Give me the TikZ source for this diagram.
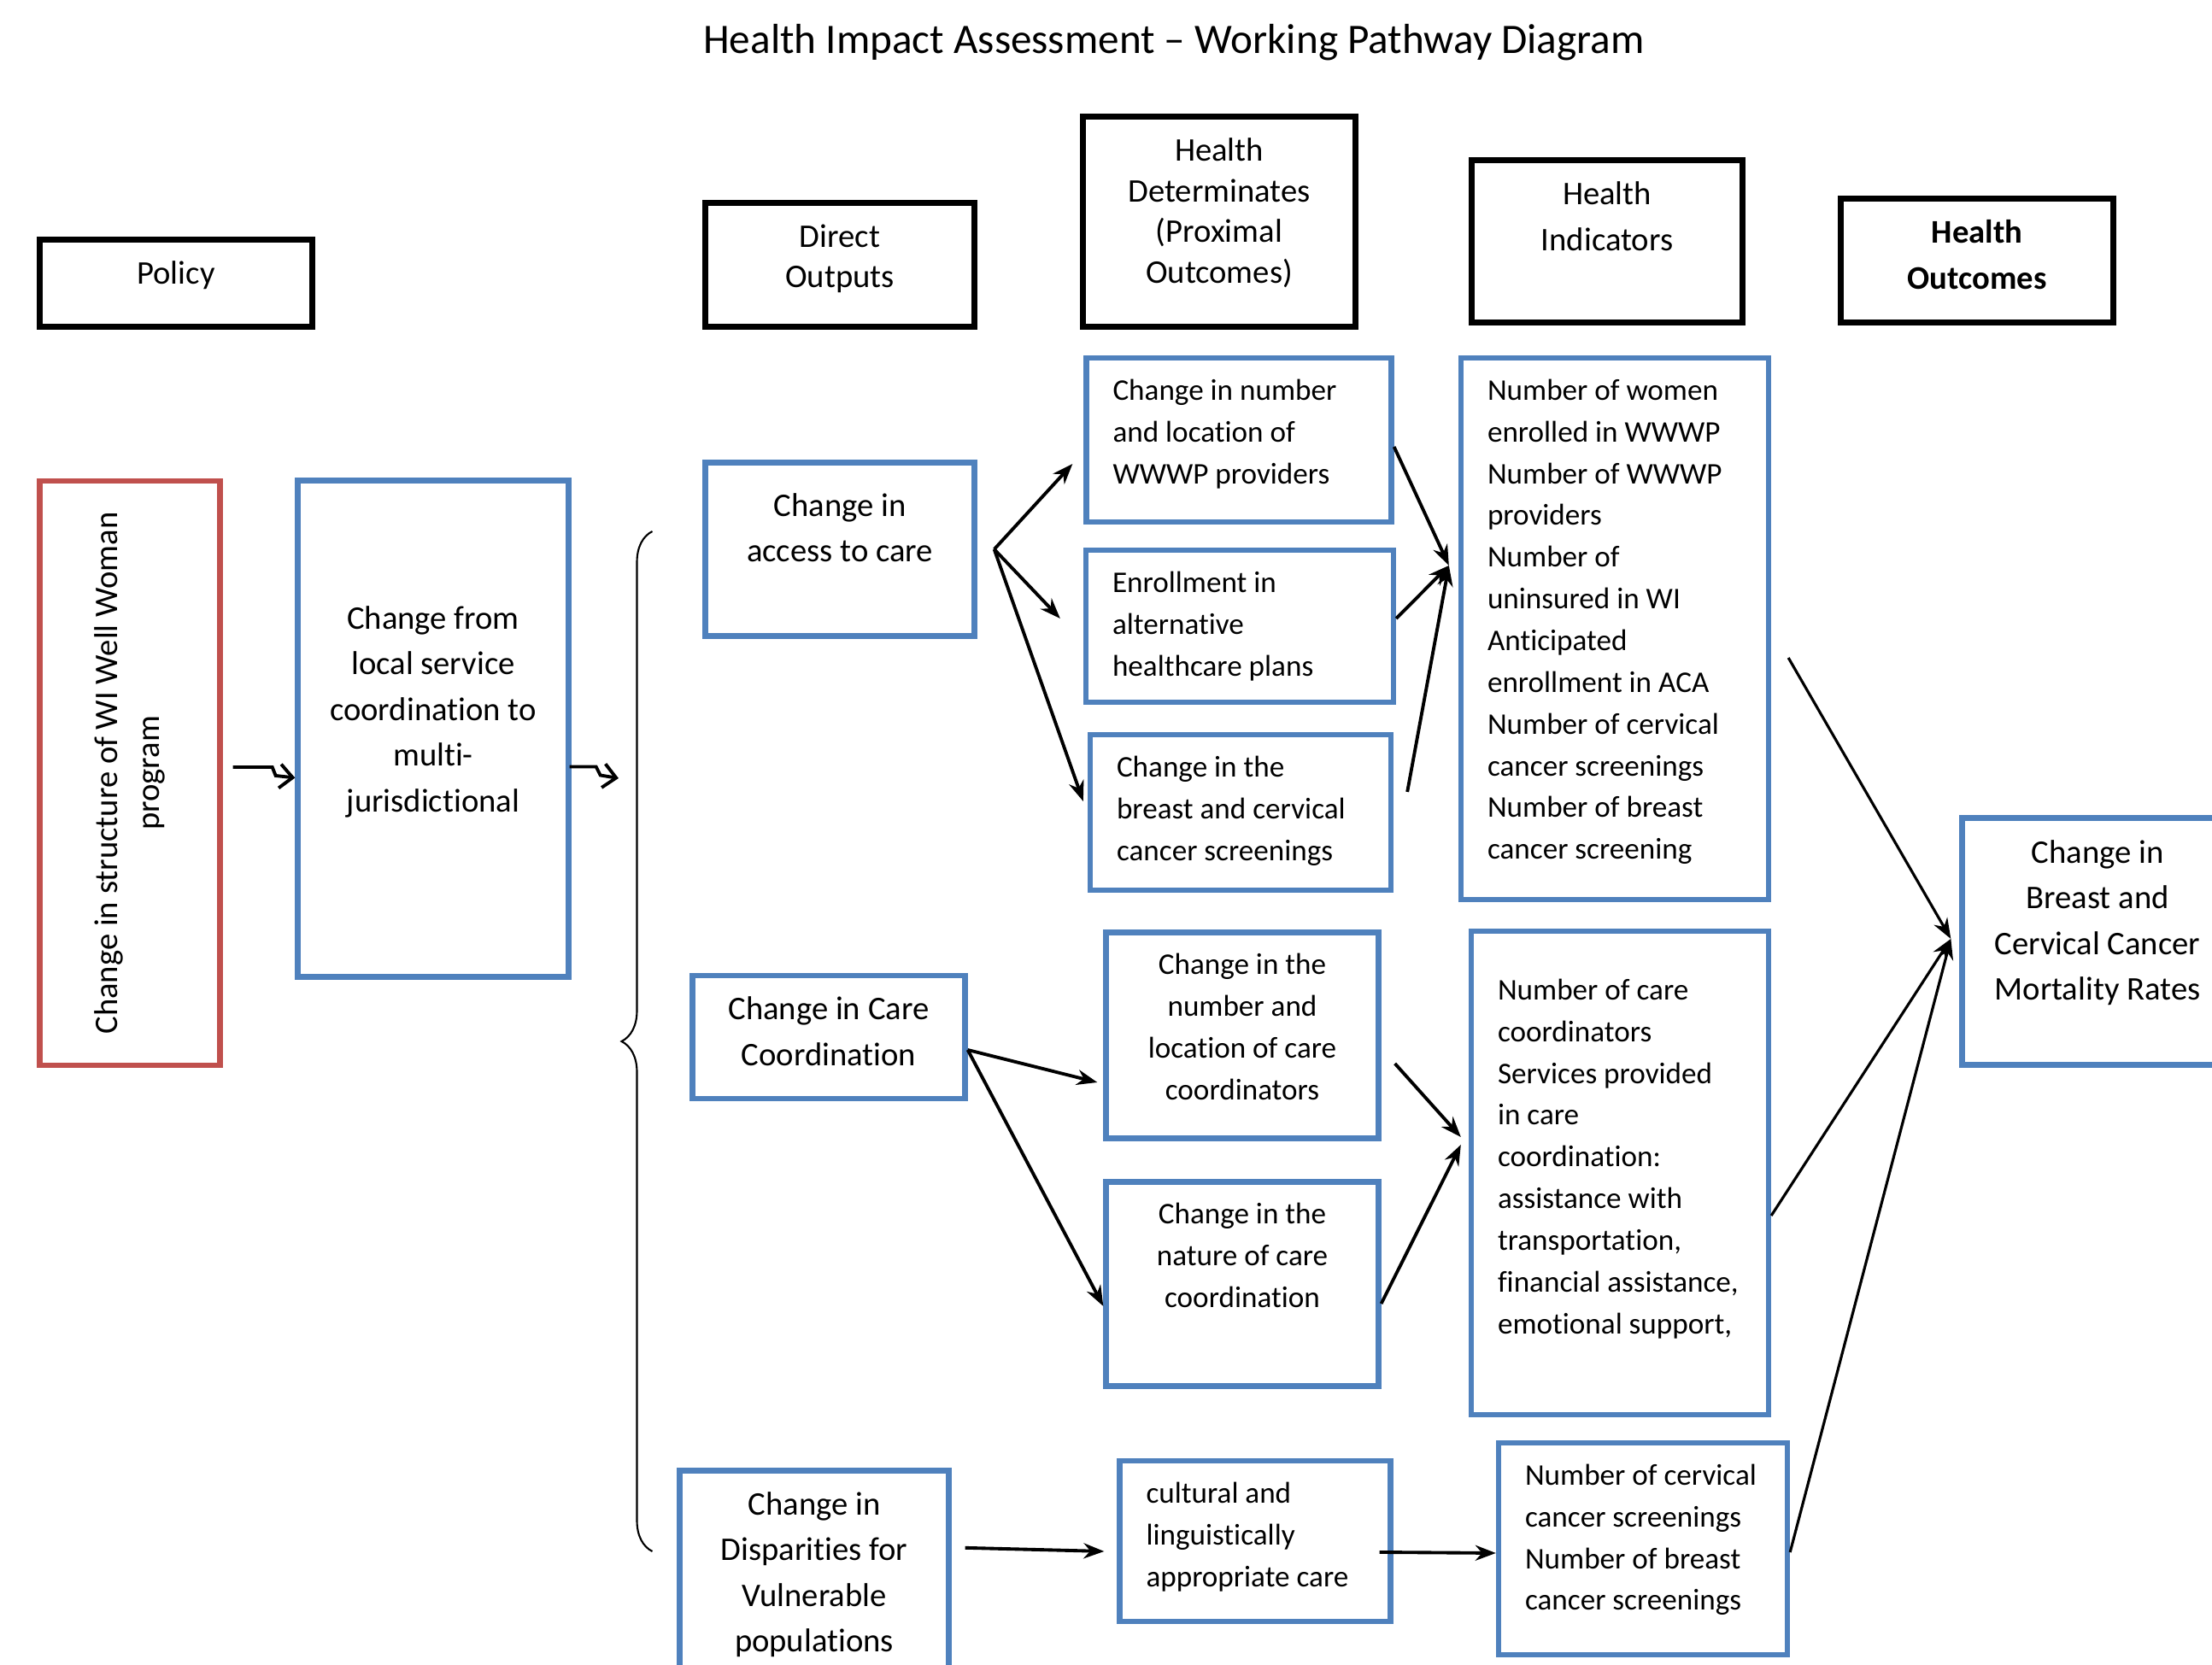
\documentclass[tikz,border=0pt]{standalone}
\usepackage{fontspec}
\setmainfont{Carlito}[Ligatures={TeX,NoCommon}]
\usetikzlibrary{arrows.meta,calc,decorations.pathreplacing}

\definecolor{boxblue}{RGB}{79,129,189}
\definecolor{boxred}{RGB}{192,80,77}

\newcommand{\boxtext}[3]{\parbox[c][#1][t]{#2}{#3}}
\newcommand{\lft}{\raggedright\leftskip=0.31cm\relax}

\tikzset{
  hdr/.style={draw=black, line width=2pt, inner sep=0pt, font=\fontsize{11}{13.5}\selectfont},
  bluebox/.style={draw=boxblue, line width=1.8pt, inner sep=0pt},
  big/.style={font=\fontsize{11}{15.2}\selectfont},
  small/.style={font=\fontsize{10}{13.9}\selectfont},
  arr/.style={line width=1.1pt, -{Stealth[length=2.4mm,width=1.8mm]}},
  jog/.style={line width=1.1pt, -{Straight Barb[length=1.5mm,width=2.8mm]}}
}

\begin{document}
\begin{tikzpicture}
    \useasboundingbox (0,0) rectangle (25.89,19.49);
    \clip (0,0) rectangle (25.89,19.49);

    \node (title) at (13.74,18.99) {\fontsize{14}{17}\selectfont Health Impact Assessment – Working Pathway Diagram};

    \node[hdr, minimum width=3.19cm, minimum height=1.02cm] (pol) at (2.06,16.17) {\boxtext{0.52cm}{3.19cm}{\centering Policy}};
    \node[hdr, minimum width=3.15cm, minimum height=1.45cm] (out) at (9.83,16.39) {\boxtext{0.95cm}{3.15cm}{\centering Direct\\ Outputs}};
    \node[hdr, minimum width=3.19cm, minimum height=2.46cm] (det) at (14.27,16.89) {\boxtext{1.96cm}{3.19cm}{\centering Health\\ Determinates\\ (Proximal\\ Outcomes)}};
    \node[hdr, minimum width=3.17cm, minimum height=1.90cm, font=\fontsize{11}{15.3}\selectfont] (ind) at (18.81,16.66) {\boxtext{1.40cm}{3.17cm}{\centering Health\\ Indicators}};
    \node[hdr, minimum width=3.19cm, minimum height=1.45cm, font=\fontsize{11}{15.3}\selectfont\bfseries] (hout) at (23.14,16.44) {\boxtext{0.95cm}{3.19cm}{\centering Health\\ Outcomes}};

    \node[draw=boxred, line width=1.8pt, rotate=90, minimum width=6.84cm, minimum height=2.11cm, align=center, font=\fontsize{11}{14}\selectfont] (struct) at (1.52,10.44) {Change in structure of WI Well Woman\\ program};
    \node[bluebox, big, minimum width=3.17cm, minimum height=5.81cm] (local) at (5.07,10.96) {\boxtext{2.87cm}{3.17cm}{\centering Change from\\ local service\\ coordination to\\ multi-\\ jurisdictional}};

    \node[bluebox, big, minimum width=3.15cm, minimum height=2.03cm] (acc) at (9.83,13.06) {\boxtext{1.31cm}{3.15cm}{\centering Change in\\ access to care}};
    \node[bluebox, small, minimum width=3.57cm, minimum height=1.92cm] (prov) at (14.50,14.34) {\boxtext{1.42cm}{3.57cm}{\lft Change in number\\ and location of\\ WWWP providers}};
    \node[bluebox, small, minimum width=3.60cm, minimum height=1.78cm] (enr) at (14.51,12.16) {\boxtext{1.28cm}{3.60cm}{\lft Enrollment in\\ alternative\\ healthcare plans}};
    \node[bluebox, small, minimum width=3.52cm, minimum height=1.82cm] (scr) at (14.52,9.98) {\boxtext{1.32cm}{3.52cm}{\lft Change in the\\ breast and cervical\\ cancer screenings}};
    \node[bluebox, small, minimum width=3.60cm, minimum height=6.34cm] (indbox) at (18.90,12.13) {\boxtext{5.84cm}{3.60cm}{\lft Number of women\\ enrolled in WWWP\\ Number of WWWP\\ providers\\ Number of\\ uninsured in WI\\ Anticipated\\ enrollment in ACA\\ Number of cervical\\ cancer screenings\\ Number of breast\\ cancer screening}};

    \node[bluebox, big, minimum width=3.19cm, minimum height=1.44cm] (cc) at (9.70,7.35) {\boxtext{0.94cm}{3.19cm}{\centering Change in Care\\ Coordination}};
    \node[bluebox, small, minimum width=3.19cm, minimum height=2.41cm] (ccnum) at (14.54,7.37) {\boxtext{1.91cm}{3.19cm}{\centering Change in the\\ number and\\ location of care\\ coordinators}};
    \node[bluebox, small, minimum width=3.19cm, minimum height=2.39cm] (ccnat) at (14.54,4.46) {\boxtext{1.89cm}{3.19cm}{\centering Change in the\\ nature of care\\ coordination}};
    \node[bluebox, small, minimum width=3.48cm, minimum height=5.66cm] (ccind) at (18.96,5.76) {\boxtext{4.54cm}{3.48cm}{\lft Number of care\\ coordinators\\ Services provided\\ in care\\ coordination:\\ assistance with\\ transportation,\\ financial assistance,\\ emotional support,}};

    \node[bluebox, big, minimum width=3.15cm, minimum height=2.77cm] (disp) at (9.53,0.89) {\boxtext{2.27cm}{3.15cm}{\centering Change in\\ Disparities for\\ Vulnerable\\ populations}};
    \node[bluebox, small, minimum width=3.17cm, minimum height=1.88cm] (cult) at (14.69,1.45) {\boxtext{1.38cm}{3.17cm}{\lft cultural and\\ linguistically\\ appropriate care}};
    \node[bluebox, small, minimum width=3.38cm, minimum height=2.48cm] (scr2) at (19.23,1.36) {\boxtext{1.98cm}{3.38cm}{\lft Number of cervical\\ cancer screenings\\ Number of breast\\ cancer screenings}};

    \node[bluebox, big, minimum width=3.17cm, minimum height=2.89cm] (mort) at (24.55,8.47) {\boxtext{2.37cm}{3.17cm}{\centering Change in\\ Breast and\\ Cervical Cancer\\ Mortality Rates}};

    \coordinate (brbot) at (7.635,1.33);
    \coordinate (brtop) at (7.635,13.27);
    \draw[line width=0.6pt, decorate, decoration={brace, amplitude=0.36cm}] (brbot) -- (brtop);

    \coordinate (bracein) at (7.24,10.38);
    \draw[jog] ($(struct.south)+(0.12,0.07)$) -- ++(0.46,0) -- ++(0.04,-0.1) -- ($(local.west)+(0,-0.575)$);
    \draw[jog] ($(local.east)+(-0.02,-0.445)$) -- ++(0.31,0) -- ++(0.05,-0.1) -- (bracein);

    \coordinate (accfan) at ($(acc.east)+(0.2,0)$);
    \draw[arr] (accfan) -- ($(prov.west)+(-0.13,-0.28)$);
    \draw[arr] (accfan) -- ($(enr.west)+(-0.27,0.09)$);
    \draw[arr] (accfan) -- ($(scr.west)+(-0.05,0.13)$);

    \coordinate (indin) at ($(indbox.west)+(-0.11,0.74)$);
    \draw[arr] ($(prov.east)+(0,-0.08)$) -- (indin);
    \draw[arr] ($(enr.east)+(0,0.09)$) -- (indin);
    \draw[arr] ($(scr.east)+(0.16,0.24)$) -- (indin);

    \coordinate (ccfan) at ($(cc.east)+(0,-0.15)$);
    \draw[arr] (ccfan) -- ($(ccnum.west)+(-0.07,-0.55)$);
    \draw[arr] (ccfan) -- ($(ccnat.west)+(0,-0.26)$);
    \draw[arr] ($(ccnum.east)+(0.16,-0.33)$) -- ($(ccind.west)+(-0.09,0.42)$);
    \draw[arr] ($(ccnat.east)+(0,-0.23)$) -- ($(ccind.west)+(-0.09,0.33)$);

    \draw[arr] ($(disp.north east)+(0.16,-0.935)$) -- ($(cult.west)+(-0.15,-0.12)$);
    \draw[arr] ($(cult.east)+(-0.16,-0.13)$) -- ($(scr2.west)+(0,-0.05)$);

    \coordinate (mortin) at ($(mort.west)+(-0.1,0.03)$);
    \draw[arr, line width=0.9pt] ($(indbox.east)+(0.2,-0.34)$) -- (mortin);
    \draw[arr, line width=0.9pt] ($(ccind.east)+(0,-0.5)$) -- (mortin);
    \draw[arr, line width=0.9pt] ($(scr2.east)+(0,-0.04)$) -- (mortin);

\end{tikzpicture}
\end{document}
